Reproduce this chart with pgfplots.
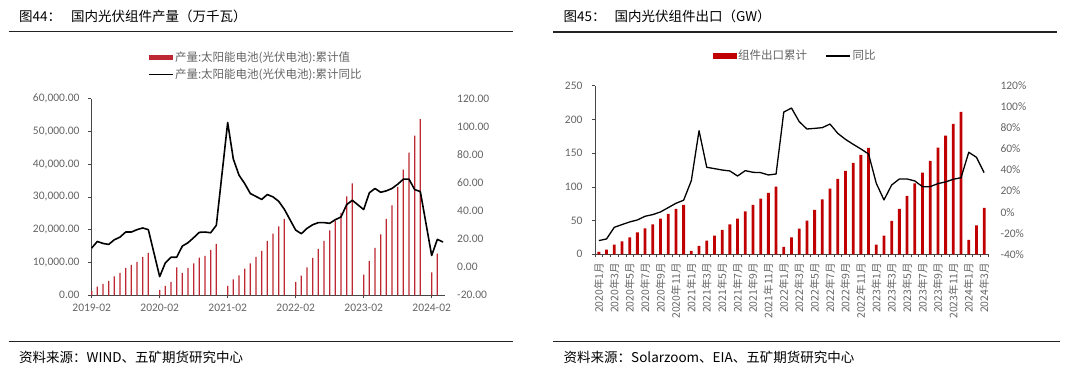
\documentclass[border=0pt]{standalone}
\usepackage{fontspec}
\usepackage{pgfplots}
\pgfplotsset{compat=1.18}
\setmainfont{Carlito}
\newfontfamily\cjk{Noto Sans CJK SC}
\definecolor{tgray}{RGB}{100,100,100}
\definecolor{lred}{RGB}{190,40,50}
\definecolor{rred}{RGB}{192,0,0}
\definecolor{axgray}{RGB}{70,70,70}
\definecolor{rulec}{RGB}{35,35,35}
\newcommand{\tfont}{\cjk\fontsize{13.5}{15}\selectfont}
\newcommand{\lfont}{\cjk\fontsize{11.5}{13}\selectfont}
\newcommand{\nfont}{\fontsize{11.5}{13}\selectfont}
\begin{document}
\begin{tikzpicture}
\useasboundingbox (0,0) rectangle (1080pt,-388pt);
% ---------- left panel frame ----------
\node[anchor=west, inner sep=0, font=\tfont] at (19pt,-16.7pt) {图44：};
\node[anchor=west, inner sep=0, font=\tfont] at (71pt,-16.7pt) {国内光伏组件产量（万千瓦）};
\draw[line width=1.4pt, rulec] (8.7pt,-31.5pt) -- (513pt,-31.5pt);
\draw[line width=1.4pt, rulec] (8.7pt,-341.5pt) -- (513pt,-341.5pt);
\node[anchor=west, inner sep=0, font=\tfont] at (19pt,-357pt) {资料来源：WIND、五矿期货研究中心};
% ---------- right panel frame ----------
\node[anchor=west, inner sep=0, font=\tfont] at (563.5pt,-16.7pt) {图45：};
\node[anchor=west, inner sep=0, font=\tfont] at (614.4pt,-16.7pt) {国内光伏组件出口（GW）};
\draw[line width=1.4pt, rulec] (553pt,-32pt) -- (1057pt,-32pt);
\draw[line width=1.4pt, rulec] (553pt,-341.5pt) -- (1060pt,-341.5pt);
\node[anchor=west, inner sep=0, font=\tfont] at (563.5pt,-357pt) {资料来源：Solarzoom、EIA、五矿期货研究中心};

% ---------- left chart: bars ----------
\begin{axis}[
  at={(91.1pt,-295.3pt)}, anchor=south west, scale only axis,
  width=353.6pt, height=196.8pt,
  xmin=-0.1, xmax=62.3, ymin=0, ymax=60000,
  scaled y ticks=false,
  axis x line*=bottom, axis y line*=left,
  axis line style={color=axgray, line width=0.8pt, -},
  xtick={0,12,24,36,48,60},
  xticklabels={2019-02,2020-02,2021-02,2022-02,2023-02,2024-02},
  ytick={0,10000,20000,30000,40000,50000,60000},
  yticklabels={0.00,{10,000.00},{20,000.00},{30,000.00},{40,000.00},{50,000.00},{60,000.00}},
  tick align=outside, major tick length=3pt,
  tick style={color=axgray, line width=0.6pt},
  ticklabel style={font=\nfont, text=tgray},
  yticklabel shift=5pt, xticklabel shift=2pt,
  legend style={at={(0.161,1.245)}, anchor=north west, draw=none, fill=none,
    font=\lfont, text=tgray, row sep=3pt, inner sep=0pt,
    nodes={inner sep=1.5pt}},
  legend cell align=left,
]
\addplot[ybar, bar width=1.3pt, fill=lred, draw=none,
  legend image code/.code={\fill[lred] (0pt,-2.5pt) rectangle (24pt,2.5pt);}]
coordinates {
(0,1320) (1,2640) (2,3450) (3,4370) (4,5790) (5,6810) (6,8330) (7,9250) (8,10160) (9,11680) (10,12900)
(12,1630) (13,2840) (14,4060) (15,8530) (16,6810) (17,8330) (18,9750) (19,11480) (20,11990) (21,13820) (22,15650)
(24,2840) (25,4880) (26,6100) (27,8130) (28,9750) (29,11680) (30,13510) (31,16560) (32,18800) (33,21030) (34,23270)
(36,4060) (37,5990) (38,8530) (39,11380) (40,14120) (41,16560) (42,19810) (43,22660) (44,25100) (45,30180) (46,34140)
(48,6300) (49,10460) (50,14430) (51,18590) (52,23270) (53,27430) (54,33020) (55,38300) (56,43490) (57,48670) (58,53750)
(60,7010) (61,12700)
};
\addlegendentry{产量:太阳能电池(光伏电池):累计值}
\addlegendimage{black, line width=1.3pt, legend image code/.code={\draw (0pt,0pt) -- (24pt,0pt);}}
\addlegendentry{产量:太阳能电池(光伏电池):累计同比}
\end{axis}
% ---------- left chart: line ----------
\begin{axis}[
  at={(91.1pt,-295.3pt)}, anchor=south west, scale only axis,
  width=353.6pt, height=196.8pt,
  xmin=-0.1, xmax=62.3, ymin=-20, ymax=120,
  hide x axis, axis y line*=right,
  axis line style={draw=none},
  ytick={-20,0,20,40,60,80,100,120},
  yticklabels={-20.00,0.00,20.00,40.00,60.00,80.00,100.00,120.00},
  ytick style={draw=none}, major tick length=0pt,
  yticklabel style={font=\nfont, text=tgray, anchor=west},
  yticklabel shift=9pt,
]
\addplot[black, line width=1.6pt, line join=round, no markers] coordinates {
(0,13.6) (1,18.3) (2,16.9) (3,16.2) (4,19.5) (5,21.4) (6,25) (7,25) (8,26.7) (9,27.9) (10,26.7)
(12,-6.7) (13,3.1) (14,7.1) (15,7.1) (16,15) (17,17.4) (18,21) (19,24.8) (20,25) (21,24.5) (22,29.8)
(24,102.9) (25,76.9) (26,65.5) (27,59.5) (28,52.4) (29,50.3) (30,48.2) (31,51.7) (32,50) (33,46.9) (34,41.2)
(36,26.4) (37,23.8) (38,27.6) (39,30.2) (40,31.7) (41,31.7) (42,31.2) (43,33.8) (44,35.7) (45,44.5) (46,47.6)
(48,41) (49,52.9) (50,56) (51,53.3) (52,54.3) (53,56) (54,59) (55,62.6) (56,62.6) (57,55.2) (58,53.8)
(60,8.3) (61,19.8) (62,17.9)
};
\end{axis}

% ---------- right chart: bars ----------
\begin{axis}[
  at={(595pt,-254.3pt)}, anchor=south west, scale only axis,
  width=393pt, height=168.6pt,
  xmin=-0.5, xmax=50.5, ymin=0, ymax=250,
  axis x line*=bottom, axis y line*=left,
  axis line style={color=axgray, line width=0.8pt, -},
  xtick={0,2,...,50},
  xticklabels={2020年1月,2020年3月,2020年5月,2020年7月,2020年9月,2020年11月,
    2021年1月,2021年3月,2021年5月,2021年7月,2021年9月,2021年11月,
    2022年1月,2022年3月,2022年5月,2022年7月,2022年9月,2022年11月,
    2023年1月,2023年3月,2023年5月,2023年7月,2023年9月,2023年11月,
    2024年1月,2024年3月},
  minor xtick={-0.5,0.5,...,50.5},
  ytick={0,50,100,150,200,250},
  minor ytick={0,50,100,150,200,250},
  yticklabels={0,50,100,150,200,250},
  tick align=outside, major tick length=0pt, minor tick length=3pt,
  minor tick style={color=axgray, line width=0.6pt},
  yticklabel style={font=\nfont, text=tgray},
  xticklabel style={font=\cjk\fontsize{10.5}{12}\selectfont, text=tgray, rotate=90, anchor=east},
  yticklabel shift=9pt, xticklabel shift=5pt,
  legend style={at={(0.299,1.22)}, anchor=north west, draw=none, fill=none,
    font=\lfont, text=tgray, inner sep=0pt, nodes={inner sep=1.5pt},
    /tikz/every even column/.append style={column sep=17pt}},
  legend columns=2,
]
\addplot[ybar, bar width=2.8pt, fill=rred, draw=none,
  legend image code/.code={\fill[rred] (0pt,-3pt) rectangle (24pt,3pt);}]
coordinates {
(0,3.5) (1,6.9) (2,14.3) (3,19.3) (4,25.2) (5,32.6) (6,38.6) (7,44.5) (8,52.9) (9,59.8) (10,67.3) (11,73.2)
(12,4.9) (13,12.4) (14,20.3) (15,27.7) (16,36.1) (17,44.5) (18,52.9) (19,63.8) (20,73.2) (21,82.6) (22,91) (23,100.4)
(24,10.9) (25,25) (26,38.1) (27,50) (28,65.8) (29,81.6) (30,97.4) (31,111.8) (32,123.6) (33,135.5) (34,147.4) (35,157.8)
(36,14.3) (37,27.7) (38,49.5) (39,67.3) (40,86.5) (41,105.3) (42,121.2) (43,138.5) (44,158.3) (45,176.1) (46,193.4) (47,211.2)
(48,21.3) (49,43) (50,68.7)
};
\addlegendentry{组件出口累计}
\addlegendimage{black, line width=1.3pt, legend image code/.code={\draw (0pt,0pt) -- (24pt,0pt);}}
\addlegendentry{同比}
\end{axis}
% ---------- right chart: line ----------
\begin{axis}[
  at={(595pt,-254.3pt)}, anchor=south west, scale only axis,
  width=393pt, height=168.6pt,
  xmin=-0.5, xmax=50.5, ymin=-40, ymax=120,
  hide x axis, axis y line*=right,
  axis line style={draw=none},
  ytick={-40,-20,0,20,40,60,80,100,120},
  yticklabels={-40\%,-20\%,0\%,20\%,40\%,60\%,80\%,100\%,120\%},
  ytick style={draw=none}, major tick length=0pt,
  yticklabel style={font=\nfont, text=tgray, anchor=west},
  yticklabel shift=9pt,
]
\addplot[black, line width=1.3pt, line join=round, no markers] coordinates {
(0,-27) (1,-25.4) (2,-14.4) (3,-11.8) (4,-9.3) (5,-7.4) (6,-3.9) (7,-2.3) (8,0.2) (9,4.3) (10,8.4) (11,11.3)
(12,29.9) (13,77.3) (14,42.6) (15,41.3) (16,40) (17,39.1) (18,34.3) (19,39.4) (20,37.8) (21,37.5) (22,35.3) (23,36.2)
(24,95) (25,98.8) (26,85.9) (27,78.9) (28,79.5) (29,80.2) (30,83.6) (31,74.8) (32,69.1) (33,64.4) (34,60) (35,55.2)
(36,27.4) (37,11.6) (38,25.8) (39,31.5) (40,31.5) (41,29.6) (42,24.2) (43,24.2) (44,27.1) (45,28.7) (46,31.2) (47,32.7)
(48,56.8) (49,52.1) (50,37.5)
};
\end{axis}
\end{tikzpicture}
\end{document}
